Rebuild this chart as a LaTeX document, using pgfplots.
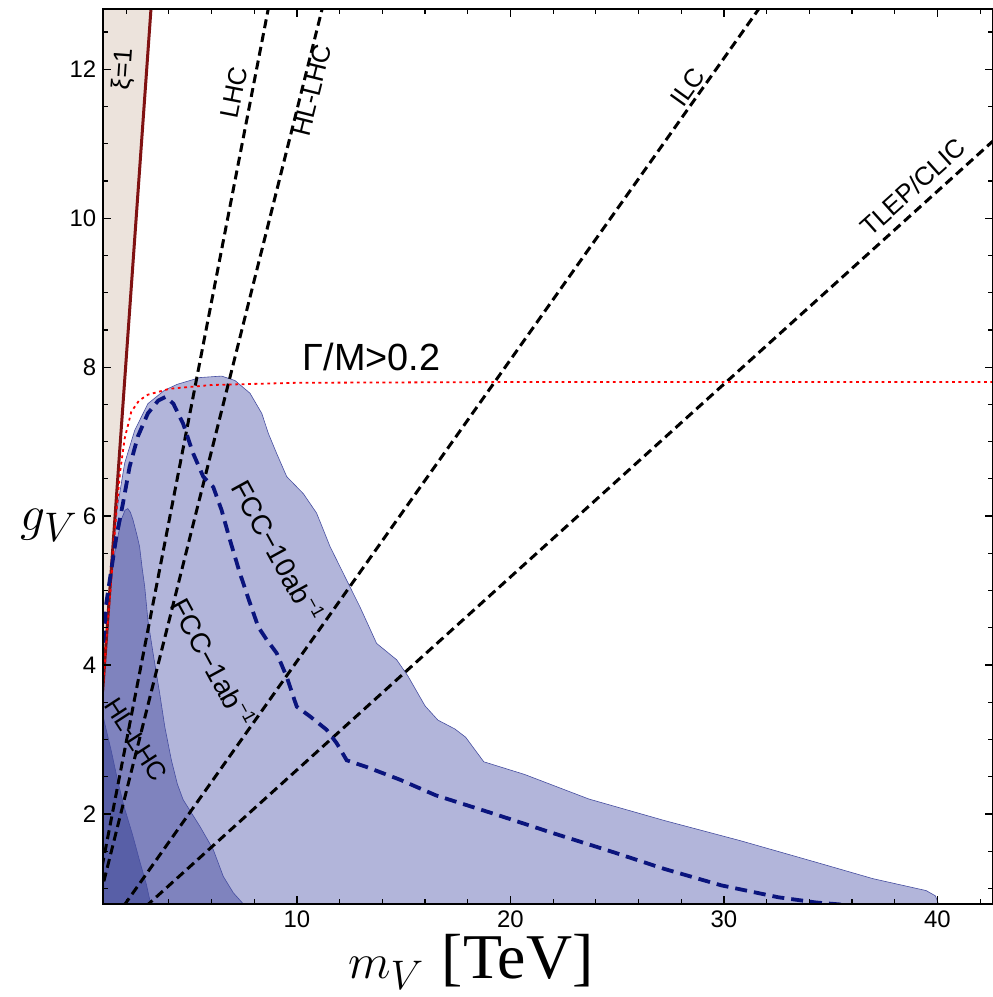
\documentclass[border=0pt]{standalone}
\usepackage{fontspec}
\setmainfont{Liberation Sans}
\newfontfamily\serif{Liberation Serif}
\usepackage{pgfplots}
\pgfplotsset{compat=1.18}
\definecolor{beige}{RGB}{236,227,220}
\definecolor{lightfcc}{RGB}{178,181,218}
\definecolor{medfcc}{RGB}{127,131,190}
\definecolor{darkhl}{RGB}{88,95,167}
\definecolor{edgeblue}{RGB}{70,78,160}
\definecolor{navyd}{RGB}{10,20,125}
\definecolor{xired}{RGB}{128,18,18}
\newcommand{\supm}{\raisebox{0.75ex}{\fontsize{9}{10}\selectfont −1}}
\begin{document}
\begin{tikzpicture}
\begin{axis}[
  scale only axis,
  width=444.85bp, height=447.5bp,
  xmin=0.93, xmax=42.6, ymin=0.79, ymax=12.81,
  xtick={10,20,30,40}, minor xtick={2,4,...,42},
  ytick={2,4,...,12}, minor ytick={1,1.5,...,12.5},
  tick align=inside,
  major tick length=4bp, minor tick length=2.5bp,
  tick style={black, line width=0.6bp},
  axis line style={line width=1bp},
  ticklabel style={font=\fontsize{12}{14}\selectfont},
  /pgf/number format/assume math mode=true,
  axis on top,
  xlabel={\fontsize{32}{36}\selectfont $m_V$ {\serif [TeV]}},
  xlabel style={at={(axis description cs:0.413,0)}, anchor=center, yshift=-29bp},
  ylabel={\fontsize{30}{34}\selectfont $g_V$},
  ylabel style={rotate=-90, at={(axis description cs:0,0.423)}, anchor=center, xshift=-27bp},
]
\coordinate (SW) at (rel axis cs:0,0);
\coordinate (NE) at (rel axis cs:1,1);
% FCC-10ab^-1 region
\addplot[fill=lightfcc, draw=edgeblue, line width=0.3bp] coordinates {
(0.93,0.79)(0.93,4.2)(0.99,4.38)(1.15,5.05)(1.38,5.72)(1.62,6.17)(1.93,6.71)(2.40,7.15)(3.02,7.51)(3.80,7.69)(4.40,7.77)(5.46,7.86)(6.47,7.88)(7.10,7.82)(7.80,7.65)(8.35,7.38)(8.66,7.11)(9.05,6.84)(9.52,6.53)(10.30,6.30)(10.92,6.04)(11.55,5.59)(12.17,5.23)(12.95,4.78)(13.73,4.29)(14.67,4.07)(15.2,3.85)(16.0,3.45)(16.6,3.26)(17.4,3.14)(17.9,3.03)(18.75,2.70)(20.66,2.53)(23.67,2.20)(27.22,1.91)(30.77,1.64)(34.32,1.35)(36.98,1.13)(39.47,0.97)(39.9,0.90)(40.05,0.79)} -- cycle;
% FCC-1ab^-1 region
\addplot[fill=medfcc, draw=edgeblue, line width=0.3bp] coordinates {
(0.93,0.79)(0.93,3.9)(1.05,4.3)(1.23,4.92)(1.46,5.50)(1.77,5.95)(1.95,6.08)(2.08,6.10)(2.20,6.05)(2.32,5.95)(2.50,5.75)(2.63,5.59)(2.75,5.30)(2.87,5.05)(3.02,4.60)(3.26,4.16)(3.57,3.62)(3.81,3.17)(4.12,2.72)(4.4,2.4)(4.67,2.19)(5.46,1.83)(6.08,1.52)(6.55,1.16)(7.02,0.94)(7.49,0.79)} -- cycle;
% HL-LHC region
\addplot[fill=darkhl, draw=edgeblue, line width=0.3bp] coordinates {
(0.93,0.79)(0.93,3.3)(1.05,3.15)(1.30,2.85)(1.6,2.45)(1.9,2.1)(2.3,1.72)(2.65,1.35)(2.95,1.05)(3.15,0.79)} -- cycle;
% xi > 1 region
\addplot[fill=beige, draw=none] coordinates {(0.93,3.767)(0.93,12.81)(3.163,12.81)} -- cycle;
% sensitivity lines
\addplot[black, line width=1.5bp, dash pattern=on 4.5bp off 2.5bp] coordinates {(0,0)(9,13.32)};
\addplot[black, line width=1.5bp, dash pattern=on 4.5bp off 2.5bp] coordinates {(0,0)(12,13.75)};
\addplot[black, line width=1.5bp, dash pattern=on 4.5bp off 2.5bp] coordinates {(0,0)(34,13.77)};
\addplot[black, line width=1.5bp, dash pattern=on 4.5bp off 2.5bp] coordinates {(0,0)(44,11.40)};
% xi = 1
\addplot[xired, line width=1.5bp] coordinates {(0.9,3.645)(3.2,12.96)};
% Gamma/M > 0.2
\addplot[red, line width=0.9bp, dash pattern=on 1.4bp off 1.8bp] coordinates {
(0.93,3.78)(0.99,3.98)(1.07,4.35)(1.28,5.05)(1.45,5.72)(1.58,6.17)(1.72,6.60)(1.93,7.04)(2.24,7.40)(2.6,7.55)(3.02,7.63)(4.04,7.71)(6,7.76)(10,7.79)(20,7.80)(43,7.80)};
% FCC-10ab^-1 dashed
\addplot[navyd, line width=1.9bp, dash pattern=on 6bp off 3.5bp] coordinates {
(0.93,4.3)(1.07,4.83)(1.30,5.27)(1.54,5.72)(1.85,6.17)(2.16,6.66)(2.55,7.07)(3.02,7.38)(3.5,7.55)(3.85,7.60)(4.21,7.51)(4.67,7.24)(5.14,6.84)(5.61,6.53)(6.08,6.39)(6.47,6.08)(6.86,5.68)(7.33,5.23)(7.80,4.83)(8.19,4.51)(8.58,4.34)(9.05,4.16)(9.52,3.84)(9.99,3.44)(10.61,3.31)(11.39,3.13)(11.86,2.95)(12.33,2.72)(13.26,2.63)(14.82,2.46)(16.5,2.25)(19.24,2.0)(21.90,1.75)(24.56,1.51)(27.22,1.26)(29.88,1.04)(32.55,0.88)(34.32,0.81)(35.6,0.78)};
% labels
\node[rotate=86, font=\fontsize{13}{15}\selectfont] at (axis cs:1.90,12.0) {ξ=1};
\node[rotate=79, font=\fontsize{13}{15}\selectfont] at (axis cs:7.05,11.69) {LHC};
\node[rotate=76, font=\fontsize{13}{15}\selectfont] at (axis cs:10.70,11.72) {HL-LHC};
\node[rotate=54.4, font=\fontsize{13}{15}\selectfont] at (axis cs:28.3,11.76) {ILC};
\node[rotate=41.9, font=\fontsize{13}{15}\selectfont] at (axis cs:38.85,10.42) {TLEP/CLIC};
\node[font=\fontsize{19}{22}\selectfont] at (axis cs:13.5,8.14) {Γ/M>0.2};
\node[rotate=-61.3, font=\fontsize{14}{16}\selectfont] at (axis cs:9.12,5.54) {FCC−10ab\supm};
\node[rotate=-61.6, font=\fontsize{14}{16}\selectfont] at (axis cs:6.08,4.04) {FCC−1ab\supm};
\node[rotate=-57, font=\fontsize{13}{15}\selectfont] at (axis cs:2.46,3.0) {HL-LHC};
\end{axis}
\pgfresetboundingbox
\path[use as bounding box] ([xshift=-51.65bp,yshift=-46.5bp]SW) rectangle ([yshift=4.5bp]NE);
\end{tikzpicture}
\end{document}
